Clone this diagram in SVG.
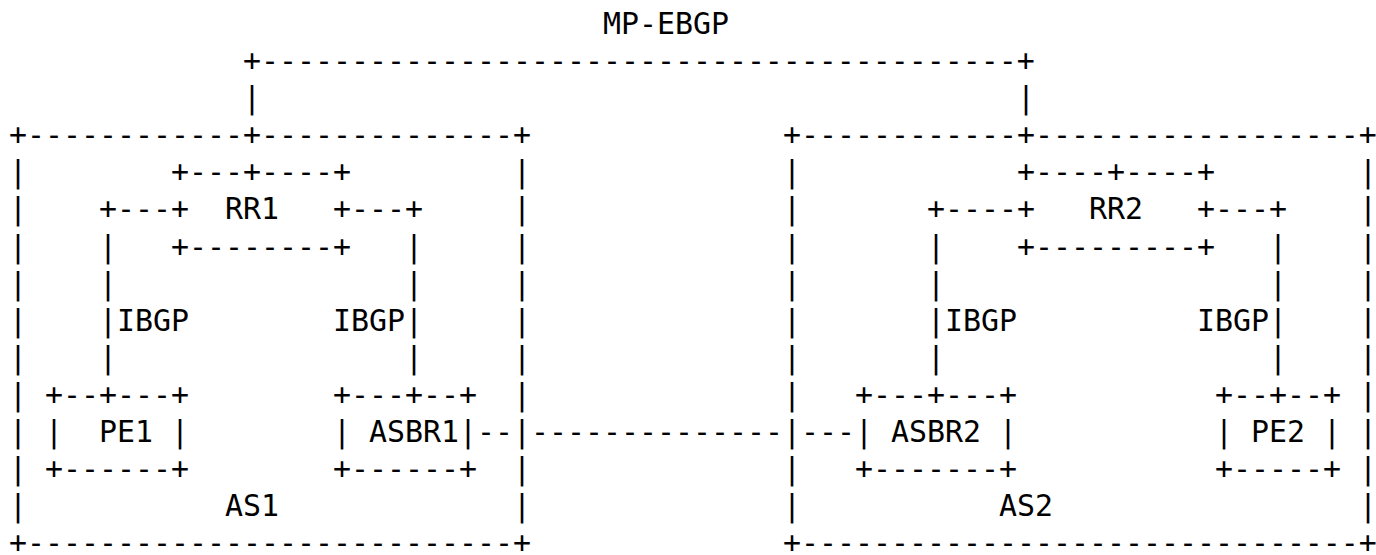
<svg xmlns="http://www.w3.org/2000/svg" width="1376" height="555" viewBox="0 0 1376 555">
<style>
text{font-family:"DejaVu Sans Mono","Liberation Mono",monospace;font-size:29.9px;fill:#000;white-space:pre}
</style>
<rect width="1376" height="555" fill="#fff"/>
<g id="as1">
<text x="9" y="145.2">+------------+--------------+</text>
<text x="9" y="182.3">|</text><text x="513" y="182.3">|</text>
<text x="9" y="219.4">|</text><text x="513" y="219.4">|</text>
<text x="9" y="256.5">|</text><text x="513" y="256.5">|</text>
<text x="9" y="293.6">|</text><text x="513" y="293.6">|</text>
<text x="9" y="330.7">|</text><text x="513" y="330.7">|</text>
<text x="9" y="367.8">|</text><text x="513" y="367.8">|</text>
<text x="9" y="404.9">|</text><text x="513" y="404.9">|</text>
<text x="9" y="442">|</text><text x="513" y="442">|</text>
<text x="9" y="479.1">|</text><text x="513" y="479.1">|</text>
<text x="9" y="516.2">|</text><text x="513" y="516.2">|</text>
<text x="225" y="516.2">AS1</text>
<text x="9" y="553.3">+---------------------------+</text>
</g>
<g id="as2">
<text x="783" y="145.2">+------------+------------------+</text>
<text x="783" y="182.3">|</text><text x="1359" y="182.3">|</text>
<text x="783" y="219.4">|</text><text x="1359" y="219.4">|</text>
<text x="783" y="256.5">|</text><text x="1359" y="256.5">|</text>
<text x="783" y="293.6">|</text><text x="1359" y="293.6">|</text>
<text x="783" y="330.7">|</text><text x="1359" y="330.7">|</text>
<text x="783" y="367.8">|</text><text x="1359" y="367.8">|</text>
<text x="783" y="404.9">|</text><text x="1359" y="404.9">|</text>
<text x="783" y="442">|</text><text x="1359" y="442">|</text>
<text x="783" y="479.1">|</text><text x="1359" y="479.1">|</text>
<text x="783" y="516.2">|</text><text x="1359" y="516.2">|</text>
<text x="999" y="516.2">AS2</text>
<text x="783" y="553.3">+-------------------------------+</text>
</g>
<g id="rr1">
<text x="171" y="182.3">+---+----+</text>
<text x="171" y="219.4">+</text><text x="225" y="219.4">RR1</text><text x="333" y="219.4">+</text>
<text x="171" y="256.5">+--------+</text>
</g>
<g id="rr2">
<text x="1017" y="182.3">+----+----+</text>
<text x="1017" y="219.4">+</text><text x="1089" y="219.4">RR2</text><text x="1197" y="219.4">+</text>
<text x="1017" y="256.5">+---------+</text>
</g>
<g id="pe1">
<text x="45" y="404.9">+--+---+</text>
<text x="45" y="442">|</text><text x="99" y="442">PE1</text><text x="171" y="442">|</text>
<text x="45" y="479.1">+------+</text>
</g>
<g id="asbr1">
<text x="333" y="404.9">+---+--+</text>
<text x="333" y="442">|</text><text x="369" y="442">ASBR1|</text>
<text x="333" y="479.1">+------+</text>
</g>
<g id="asbr2">
<text x="855" y="404.9">+---+---+</text>
<text x="855" y="442">|</text><text x="891" y="442">ASBR2</text><text x="999" y="442">|</text>
<text x="855" y="479.1">+-------+</text>
</g>
<g id="pe2">
<text x="1215" y="404.9">+--+--+</text>
<text x="1215" y="442">|</text><text x="1251" y="442">PE2</text><text x="1323" y="442">|</text>
<text x="1215" y="479.1">+-----+</text>
</g>
<g id="connectors">
<g id="mp-ebgp">
<text x="603" y="33.9">MP-EBGP</text>
<text x="243" y="71">+------------------------------------------+</text>
<text x="243" y="108.1">|</text><text x="1017" y="108.1">|</text>
</g>
<g id="ibgp-as1">
<text x="99" y="219.4">+---</text><text x="351" y="219.4">---+</text>
<text x="99" y="256.5">|</text><text x="405" y="256.5">|</text>
<text x="99" y="293.6">|</text><text x="405" y="293.6">|</text>
<text x="99" y="330.7">|IBGP</text><text x="333" y="330.7">IBGP|</text>
<text x="99" y="367.8">|</text><text x="405" y="367.8">|</text>
</g>
<g id="ibgp-as2">
<text x="927" y="219.4">+----</text><text x="1215" y="219.4">---+</text>
<text x="927" y="256.5">|</text><text x="1269" y="256.5">|</text>
<text x="927" y="293.6">|</text><text x="1269" y="293.6">|</text>
<text x="927" y="330.7">|IBGP</text><text x="1197" y="330.7">IBGP|</text>
<text x="927" y="367.8">|</text><text x="1269" y="367.8">|</text>
</g>
<g id="asbr-link">
<text x="477" y="442">--</text><text x="531" y="442">--------------</text><text x="801" y="442">---</text>
</g>
</g>
</svg>
